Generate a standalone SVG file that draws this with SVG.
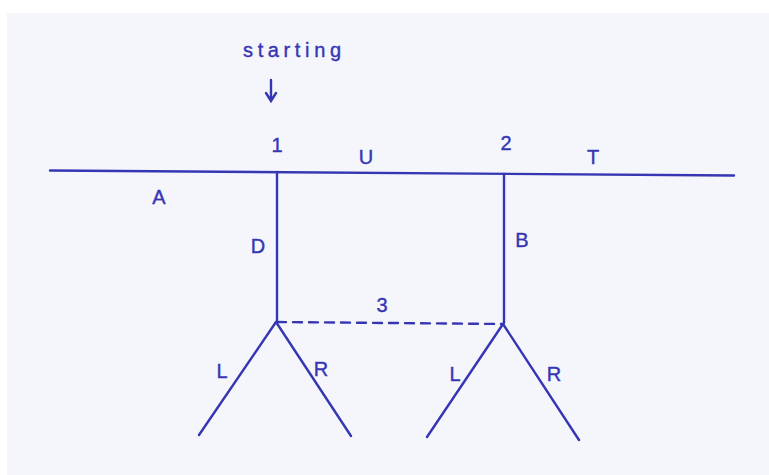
<svg xmlns="http://www.w3.org/2000/svg" width="769" height="475" viewBox="0 0 769 475">
<style>
.ln{stroke:#3636b3;stroke-width:2.4;fill:none;stroke-linecap:round}
.dash{stroke-dasharray:9 7}
.lb{font-family:"Liberation Sans",Arial,sans-serif;fill:#3636b3;font-size:20px;text-anchor:middle;stroke:#3636b3;stroke-width:0.4}
</style>
<rect width="769" height="475" fill="#ffffff"/>
<rect x="7" y="13" width="762" height="462" fill="#f4f6fc"/>
<g id="connectors">
<line class="ln" x1="50" y1="170.5" x2="734" y2="175.5"/>
<line class="ln" x1="277" y1="172" x2="277" y2="322"/>
<line class="ln" x1="504" y1="174" x2="504" y2="323"/>
<line class="ln dash" x1="277" y1="322" x2="503" y2="324"/>
<line class="ln" x1="276" y1="322" x2="199" y2="435"/>
<line class="ln" x1="276" y1="322" x2="351" y2="436"/>
<line class="ln" x1="503" y1="324" x2="427" y2="437"/>
<line class="ln" x1="503" y1="324" x2="579" y2="440"/>
<path class="ln" d="M271 80 L271 100 M266 93 L271 101 L276 93"/>
</g>
<g id="start"><text class="lb" x="292" y="57" font-size="23" textLength="98" lengthAdjust="spacing">starting</text></g>
<g id="n1"><text class="lb" x="277" y="152">1</text></g>
<g id="n2"><text class="lb" x="506" y="150">2</text></g>
<g id="n3"><text class="lb" x="382" y="312">3</text></g>
<g id="lU"><text class="lb" x="366" y="164">U</text></g>
<g id="lT"><text class="lb" x="593" y="164">T</text></g>
<g id="lA"><text class="lb" x="159" y="204">A</text></g>
<g id="lD"><text class="lb" x="258" y="253">D</text></g>
<g id="lB"><text class="lb" x="522" y="247">B</text></g>
<g id="lL1"><text class="lb" x="222" y="378">L</text></g>
<g id="lR1"><text class="lb" x="321" y="376">R</text></g>
<g id="lL2"><text class="lb" x="455" y="381">L</text></g>
<g id="lR2"><text class="lb" x="554" y="381">R</text></g>
</svg>
